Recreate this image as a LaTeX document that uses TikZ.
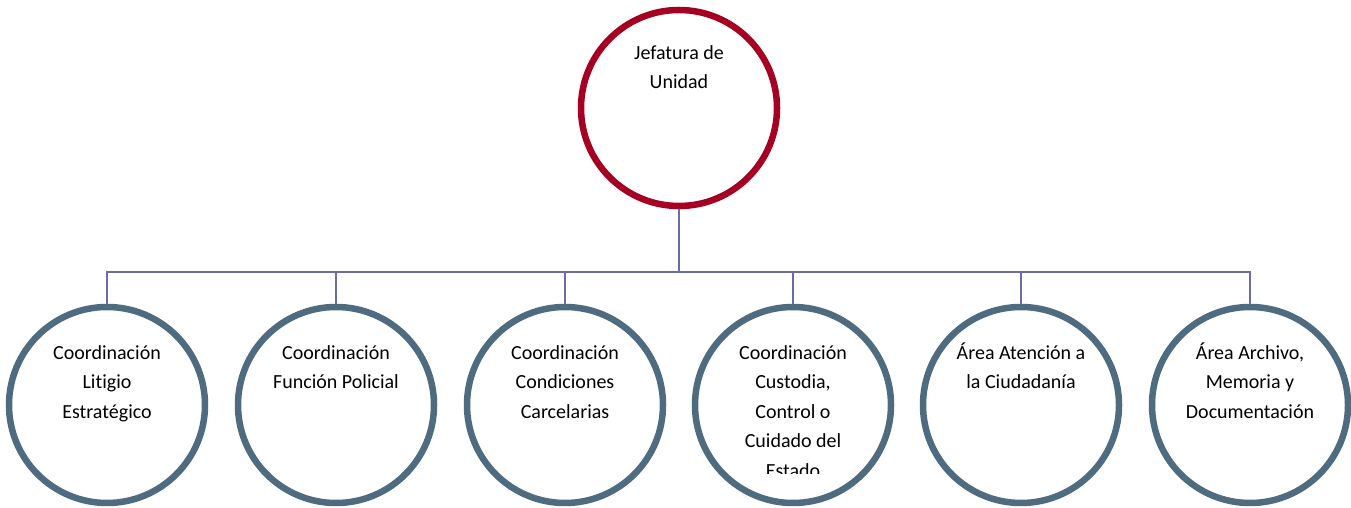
\documentclass[tikz,border=0pt]{standalone}
\usepackage{fontspec}
\setmainfont{Carlito}[Ligatures={NoCommon}]
\definecolor{topred}{RGB}{165,0,33}
\definecolor{boxblue}{RGB}{78,107,128}
\definecolor{linkc}{RGB}{108,108,160}
\tikzset{
  topcirc/.style={circle,draw=topred,line width=6.5pt,minimum size=196pt,inner sep=0pt,fill=white},
  subcirc/.style={circle,draw=boxblue,line width=6.5pt,minimum size=196pt,inner sep=0pt,fill=white},
  lbl/.style={anchor=north,align=center,inner sep=0pt,font=\fontsize{20pt}{29.5pt}\selectfont},
  link/.style={draw=linkc,line width=1.6pt}
}
\newcommand{\tp}{\rule{0pt}{18pt}}
\begin{document}
\begin{tikzpicture}[x=1pt,y=1pt]
\useasboundingbox (0,0) rectangle (1351,508);
\node[topcirc] (top) at (679,400) {};
\node[lbl] (ttop) at (679,467) {\tp Jefatura de\\Unidad};
\coordinate (bus) at (679,236);
\foreach \i/\x in {1/107,2/336,3/565,4/793,5/1021,6/1250}{
  \node[subcirc] (c\i) at (\x,103) {};
}
\draw[link] (top.south) -- (bus);
\foreach \i in {1,...,6}{
  \draw[link] (c\i.north) |- (bus);
}
\node[lbl] (t1) at (107,167) {\tp Coordinación\\Litigio\\Estratégico};
\node[lbl] (t2) at (336,167) {\tp Coordinación\\Función Policial};
\node[lbl] (t3) at (565,167) {\tp Coordinación\\Condiciones\\Carcelarias};
\begin{scope}
\clip (0,34) rectangle (1351,508);
\node[lbl] (t4) at (793,167) {\tp Coordinación\\Custodia,\\Control o\\Cuidado del\\Estado};
\end{scope}
\node[lbl] (t5) at (1021,167) {\tp Área Atención a\\la Ciudadanía};
\node[lbl] (t6) at (1250,167) {\tp Área Archivo,\\Memoria y\\Documentación};
\end{tikzpicture}
\end{document}
